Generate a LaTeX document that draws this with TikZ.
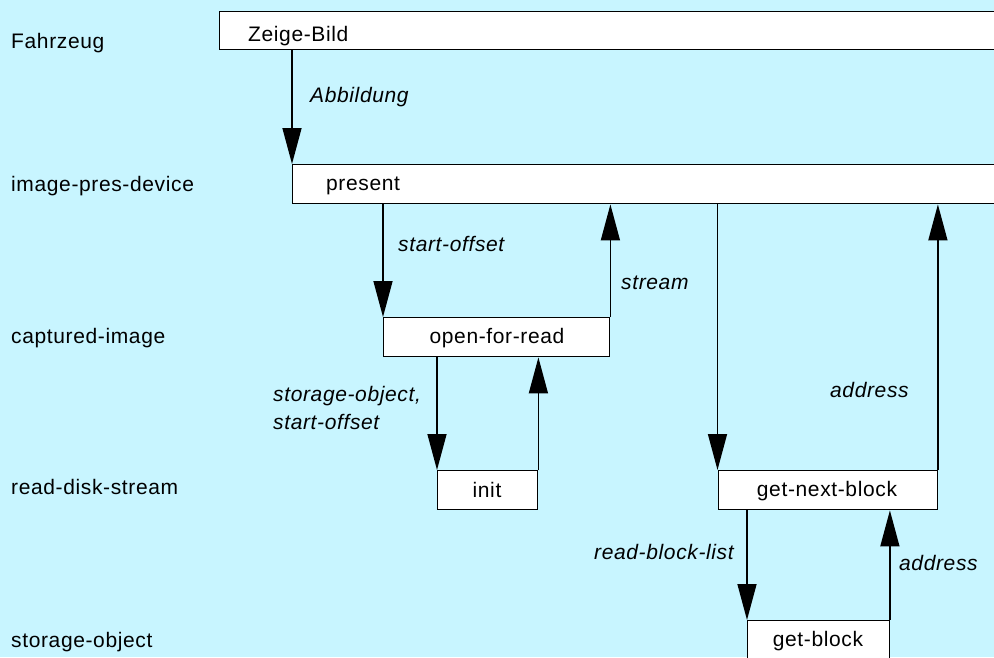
\documentclass[tikz,border=0pt]{standalone}
\usepackage{fontspec}
\setmainfont{Liberation Sans}[LetterSpace=3]
\usetikzlibrary{arrows.meta}
\definecolor{bg}{RGB}{200,245,255}
\begin{document}
\begin{tikzpicture}[x=1pt,y=-1pt,
  font=\fontsize{21}{25}\selectfont,
  box/.style={draw=black, fill=white, line width=1.4pt, inner sep=0pt, anchor=north west},
  txt/.style={inner sep=0pt, anchor=base},
  lbl/.style={inner sep=0pt, anchor=base west, font=\fontsize{21}{25}\selectfont\itshape},
  lane/.style={inner sep=0pt, anchor=base west},
  arr/.style={line width=1.5pt, -{Triangle[length=36pt,width=19pt]}}]
\useasboundingbox (0,0) rectangle (994,657);
\clip (0,0) rectangle (994,657);
\fill[bg] (0,0) rectangle (994,657);

% lane names
\node[lane] (l1) at (11,48) {Fahrzeug};
\node[lane] (l2) at (11,191) {image-pres-device};
\node[lane] (l3) at (11,343) {captured-image};
\node[lane] (l4) at (11,494) {read-disk-stream};
\node[lane] (l5) at (11,647) {storage-object};

% operation boxes
\node[box, minimum width=800, minimum height=38] (zb) at (218.5,11) {};
\node[box, minimum width=720, minimum height=39] (pr) at (292,164) {};
\node[box, minimum width=226, minimum height=39] (ofr) at (383,317) {};
\node[box, minimum width=100, minimum height=38.5] (init) at (437,470) {};
\node[box, minimum width=219, minimum height=39] (gnb) at (717.5,470) {};
\node[box, minimum width=141.5, minimum height=60] (gb) at (747,620) {};

% box captions
\node[inner sep=0pt, anchor=base west] (tzb) at (248,41) {Zeige-Bild};
\node[inner sep=0pt, anchor=base west] (tpr) at (326,190) {present};
\node[txt] (tofr) at (497,343) {open-for-read};
\node[txt] (tinit) at (487,497) {init};
\node[txt] (tgnb) at (827,496) {get-next-block};
\node[txt] (tgb) at (818,646) {get-block};

% message flows
\draw[arr] (pr.north west |- zb.south) -- (pr.north west);
\draw[arr] (ofr.north west |- pr.south) -- (ofr.north west);
\draw[arr] (ofr.north east) -- (ofr.north east |- pr.south);
\draw[arr] (init.north west |- ofr.south) -- (init.north west);
\draw[arr] (init.north east) -- (init.north east |- ofr.south);
\draw[arr] (gnb.north west |- pr.south) -- (gnb.north west);
\draw[arr] (gnb.north east) -- (gnb.north east |- pr.south);
\draw[arr] (gb.north west |- gnb.south) -- (gb.north west);
\draw[arr] (gb.north east) -- (gb.north east |- gnb.south);

% flow labels
\node[lbl] (a1) at (310,102) {Abbildung};
\node[lbl] (a2) at (398,251) {start-offset};
\node[lbl] (a3) at (621,289) {stream};
\node[lbl] (a4) at (273,401) {storage-object,};
\node[lbl] (a5) at (273,429) {start-offset};
\node[lbl] (a6) at (830,397) {address};
\node[lbl] (a7) at (594,559) {read-block-list};
\node[lbl] (a8) at (899,570) {address};
\end{tikzpicture}
\end{document}
